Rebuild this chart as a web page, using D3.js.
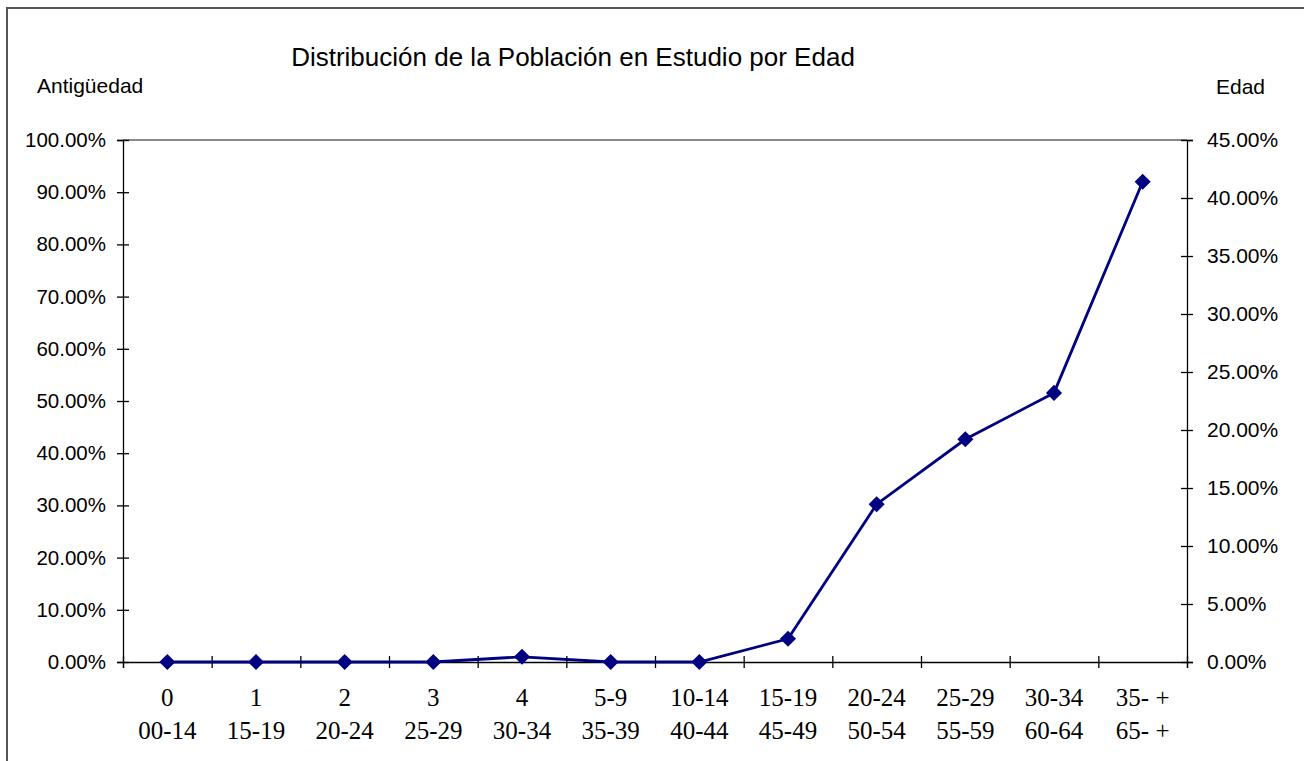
<!DOCTYPE html>
<html>
<head>
<meta charset="utf-8">
<script src="https://cdn.jsdelivr.net/npm/d3@7"></script>
<style>
  body { margin: 0; background: #fff; }
  svg text { font-family: "Liberation Sans", Arial, sans-serif; fill: #000; }
  .cat text { font-family: "Liberation Serif", "Times New Roman", serif; }
  .axis path, .axis line { stroke: #000; stroke-width: 1.3; }
</style>
</head>
<body>
<svg id="chart" width="1304" height="761"></svg>
<script>
// categories (two label rows under the x axis)
var antiguedad = ["0", "1", "2", "3", "4", "5-9", "10-14", "15-19", "20-24", "25-29", "30-34", "35- +"];
var edadGrupo = ["00-14", "15-19", "20-24", "25-29", "30-34", "35-39", "40-44", "45-49", "50-54", "55-59", "60-64", "65- +"];
// share of population per group, read on the right (Edad) axis
var edadValores = [0, 0, 0, 0, 0.0045, 0, 0, 0.020, 0.136, 0.192, 0.232, 0.414];
var leftTicks = [0, 0.1, 0.2, 0.3, 0.4, 0.5, 0.6, 0.7, 0.8, 0.9, 1.0];
var rightTicks = [0, 0.05, 0.10, 0.15, 0.20, 0.25, 0.30, 0.35, 0.40, 0.45];

var svg = d3.select("#chart");
var plot = {left: 123, right: 1187, top: 140, bottom: 662};

// outer chart border (runs off the right and bottom of the picture)
svg.append("rect")
    .attr("x", 7).attr("y", 8)
    .attr("width", 1400).attr("height", 900)
    .attr("fill", "none")
    .attr("stroke", "#555")
    .attr("stroke-width", 2);

var x = d3.scaleBand()
    .domain(d3.range(antiguedad.length))
    .range([plot.left, plot.right]);
var xEdge = d3.scaleLinear()
    .domain([0, antiguedad.length])
    .range([plot.left, plot.right]);
var yLeft = d3.scaleLinear().domain([0, 1]).range([plot.bottom, plot.top]);
var yRight = d3.scaleLinear().domain([0, 0.45]).range([plot.bottom, plot.top]);

var pct = d3.format(".2%");

// gray top of plot frame
svg.append("line")
    .attr("x1", plot.left).attr("x2", plot.right)
    .attr("y1", plot.top).attr("y2", plot.top)
    .attr("stroke", "#888").attr("stroke-width", 2);

var gl = svg.append("g")
    .attr("class", "axis")
    .attr("transform", "translate(" + plot.left + ",0)")
    .call(d3.axisLeft(yLeft).tickValues(leftTicks).tickFormat(pct).tickSizeOuter(0).tickSize(6).tickPadding(11));
gl.selectAll(".tick line").attr("x1", 6);
gl.selectAll("text").attr("font-size", 20.5);

var gr = svg.append("g")
    .attr("class", "axis")
    .attr("transform", "translate(" + plot.right + ",0)")
    .call(d3.axisRight(yRight).tickValues(rightTicks).tickFormat(pct).tickSizeOuter(0).tickSize(6).tickPadding(14));
gr.selectAll(".tick line").attr("x1", -6);
gr.selectAll("text").attr("font-size", 21);

var gb = svg.append("g")
    .attr("class", "axis")
    .attr("transform", "translate(0," + plot.bottom + ")")
    .call(d3.axisBottom(xEdge).ticks(antiguedad.length).tickFormat("").tickSizeOuter(0).tickSize(6));
gb.selectAll(".tick line").attr("y1", -6);

// category labels, two rows
var cat = svg.append("g").attr("class", "cat");
cat.selectAll("text.row1")
    .data(antiguedad)
    .enter().append("text")
    .attr("class", "row1")
    .attr("x", function(d, i) { return x(i) + x.bandwidth() / 2; })
    .attr("y", 706)
    .attr("text-anchor", "middle")
    .attr("font-size", 25)
    .text(function(d) { return d; });
cat.selectAll("text.row2")
    .data(edadGrupo)
    .enter().append("text")
    .attr("class", "row2")
    .attr("x", function(d, i) { return x(i) + x.bandwidth() / 2; })
    .attr("y", 739)
    .attr("text-anchor", "middle")
    .attr("font-size", 25)
    .text(function(d) { return d; });

// series line + diamond markers
var line = d3.line()
    .x(function(d, i) { return x(i) + x.bandwidth() / 2; })
    .y(function(d) { return yRight(d); });

svg.append("path")
    .datum(edadValores)
    .attr("d", line)
    .attr("fill", "none")
    .attr("stroke", "#000080")
    .attr("stroke-width", 2.8);

svg.selectAll("path.marker")
    .data(edadValores)
    .enter().append("path")
    .attr("class", "marker")
    .attr("d", d3.symbol().type(d3.symbolDiamond2).size(165))
    .attr("transform", function(d, i) { return "translate(" + (x(i) + x.bandwidth() / 2) + "," + yRight(d) + ")"; })
    .attr("fill", "#000080");

// titles
svg.append("text")
    .attr("x", 573).attr("y", 66)
    .attr("text-anchor", "middle")
    .attr("font-size", 26)
    .text("Distribución de la Población en Estudio por Edad");
svg.append("text")
    .attr("x", 37).attr("y", 93)
    .attr("font-size", 21)
    .text("Antigüedad");
svg.append("text")
    .attr("x", 1216).attr("y", 94)
    .attr("font-size", 21)
    .text("Edad");
</script>
</body>
</html>
